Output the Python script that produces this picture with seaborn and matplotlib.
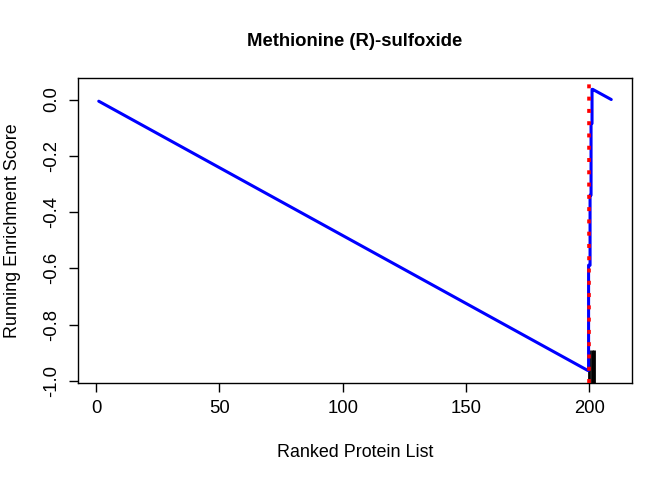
import matplotlib
matplotlib.use("Agg")
import matplotlib.pyplot as plt
import seaborn as sns
import pandas as pd

# ---- data ----
title = "Methionine (R)-sulfoxide"
x_label = "Ranked Protein List"
y_label = "Running Enrichment Score"

es_rank = [1, 199.5, 199.8, 199.8, 200.4, 200.4, 200.8, 200.8, 201.2, 201.2, 201.5, 209]
es_score = [-0.006, -0.963, -0.963, -0.589, -0.589, -0.340, -0.340, -0.085, -0.085, 0.036, 0.036, 0.0]

hit_ranks = [200, 201, 202]
hit_low = -1.02
hit_high = -0.89

peak_rank = 200

x_ticks = [0, 50, 100, 150, 200]
y_ticks = [0.0, -0.2, -0.4, -0.6, -0.8, -1.0]
y_tick_labels = ["0.0", "-0.2", "-0.4", "-0.6", "-0.8", "-1.0"]

# ---- style ----
sns.set_theme(style="ticks")
plt.rcParams["font.family"] = ["Liberation Sans", "DejaVu Sans"]

fig = plt.figure(figsize=(6.72, 4.8), dpi=100)
ax = fig.add_axes([78.3 / 672, 1 - 382.5 / 480, (631.7 - 78.3) / 672, (382.5 - 78.3) / 480])

df = pd.DataFrame({"rank": es_rank, "score": es_score})

ax.vlines(hit_ranks, hit_low, hit_high, colors="black", linewidth=2.0, zorder=2)
sns.lineplot(data=df, x="rank", y="score", sort=False, estimator=None,
             color="#0000FF", linewidth=2.2, ax=ax, zorder=3)
ax.axvline(peak_rank, color="#FF0000", linewidth=2.6, linestyle=(0, (1.1, 2.3)),
           dash_capstyle="butt", zorder=4)

ax.set_xlim(-7.3, 217.3)
ax.set_ylim(-1.0057, 0.0754)

ax.set_xticks(x_ticks)
ax.set_xticklabels([str(t) for t in x_ticks])
ax.set_yticks(y_ticks)
ax.set_yticklabels(y_tick_labels, rotation=90, va="center")

for s in ax.spines.values():
    s.set_color("black")
    s.set_linewidth(1.0)

ax.tick_params(axis="both", direction="out", length=6.8, width=1.0, color="black",
               labelsize=13.3, labelcolor="black")
ax.tick_params(axis="x", pad=6.0)
ax.tick_params(axis="y", pad=6.0)

ax.set_title(title, fontsize=13.3, fontweight="bold", pad=23.5, color="black")
ax.set_xlabel(x_label, fontsize=12.9, color="black")
ax.xaxis.label.set_va("baseline")
ax.xaxis.set_label_coords(0.5, (382.5 - 456.7) / 304.2)
ax.set_ylabel(y_label, fontsize=12.9, color="black")
ax.yaxis.set_label_coords((21.3 - 78.3) / 553.4, 0.5)

fig.savefig("out.png", dpi=100)
